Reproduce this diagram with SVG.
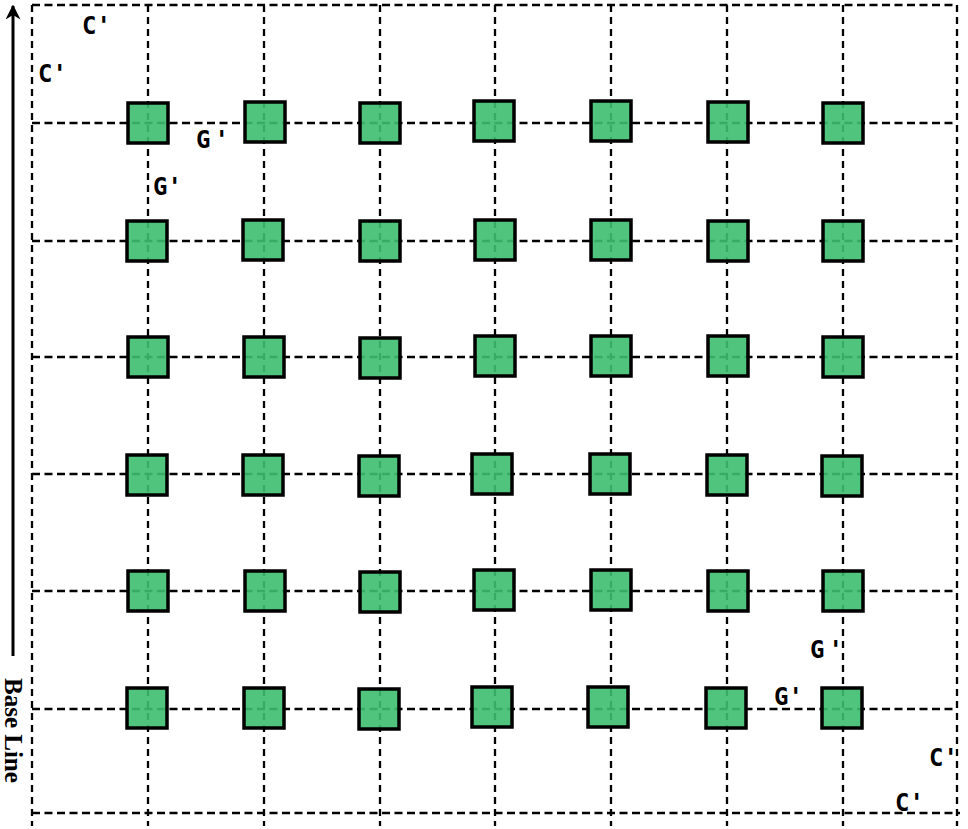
<svg xmlns="http://www.w3.org/2000/svg" width="968" height="829" viewBox="0 0 968 829">
<defs>
<style>
.g{stroke:#000;stroke-width:2.3;stroke-dasharray:8 4.5;fill:none}
.v{stroke:#000;stroke-width:2.3;stroke-dasharray:7 5;fill:none}
.sq{fill:#3dbd6e;fill-opacity:0.9;stroke:#000;stroke-width:3.5}
.lb{font-family:"DejaVu Sans Mono","Liberation Mono",monospace;font-size:24px;font-weight:bold;fill:#000}
.bl{font-family:"Liberation Serif","Times New Roman",serif;font-size:25px;font-weight:bold;fill:#000}
</style>
<marker id="ah" viewBox="0 0 10 10" refX="9" refY="5" markerWidth="5" markerHeight="5" orient="auto" markerUnits="strokeWidth">
<path d="M0,0 L10,5 L0,10 L3,5 Z" fill="#000"/>
</marker>
</defs>
<rect width="968" height="829" fill="#fff"/>
<g id="grid">
<line class="g" x1="32" y1="5" x2="957" y2="5"/>
<line class="g" x1="32" y1="123" x2="957" y2="123"/>
<line class="g" x1="32" y1="241" x2="957" y2="241"/>
<line class="g" x1="32" y1="357" x2="957" y2="357"/>
<line class="g" x1="32" y1="474" x2="957" y2="474"/>
<line class="g" x1="32" y1="591" x2="957" y2="591"/>
<line class="g" x1="32" y1="709" x2="957" y2="709"/>
<line class="g" x1="32" y1="813" x2="960" y2="813"/>
<line class="v" x1="32" y1="5" x2="32" y2="826"/>
<line class="v" x1="148" y1="5" x2="148" y2="826"/>
<line class="v" x1="264" y1="5" x2="264" y2="826"/>
<line class="v" x1="380" y1="5" x2="380" y2="826"/>
<line class="v" x1="495" y1="5" x2="495" y2="826"/>
<line class="v" x1="611" y1="5" x2="611" y2="826"/>
<line class="v" x1="727" y1="5" x2="727" y2="826"/>
<line class="v" x1="843" y1="5" x2="843" y2="826"/>
<line class="v" x1="957" y1="5" x2="957" y2="826"/>
</g>
<g id="pads">
<rect class="sq" x="128" y="103" width="40" height="40"/>
<rect class="sq" x="245" y="102" width="40" height="40"/>
<rect class="sq" x="360" y="103" width="40" height="40"/>
<rect class="sq" x="474" y="101" width="40" height="40"/>
<rect class="sq" x="591" y="101" width="40" height="40"/>
<rect class="sq" x="708" y="102" width="40" height="40"/>
<rect class="sq" x="823" y="103" width="40" height="40"/>

<rect class="sq" x="127" y="221" width="40" height="40"/>
<rect class="sq" x="243" y="220" width="40" height="40"/>
<rect class="sq" x="360" y="221" width="40" height="40"/>
<rect class="sq" x="475" y="220" width="40" height="40"/>
<rect class="sq" x="591" y="220" width="40" height="40"/>
<rect class="sq" x="708" y="221" width="40" height="40"/>
<rect class="sq" x="823" y="221" width="40" height="40"/>

<rect class="sq" x="128" y="337" width="40" height="40"/>
<rect class="sq" x="244" y="337" width="40" height="40"/>
<rect class="sq" x="360" y="338" width="40" height="40"/>
<rect class="sq" x="475" y="336" width="40" height="40"/>
<rect class="sq" x="591" y="336" width="40" height="40"/>
<rect class="sq" x="708" y="336" width="40" height="40"/>
<rect class="sq" x="823" y="337" width="40" height="40"/>

<rect class="sq" x="127" y="455" width="40" height="40"/>
<rect class="sq" x="243" y="455" width="40" height="40"/>
<rect class="sq" x="359" y="456" width="40" height="40"/>
<rect class="sq" x="472" y="454" width="40" height="40"/>
<rect class="sq" x="590" y="454" width="40" height="40"/>
<rect class="sq" x="707" y="455" width="40" height="40"/>
<rect class="sq" x="822" y="456" width="40" height="40"/>

<rect class="sq" x="128" y="571" width="40" height="40"/>
<rect class="sq" x="245" y="571" width="40" height="40"/>
<rect class="sq" x="360" y="572" width="40" height="40"/>
<rect class="sq" x="474" y="570" width="40" height="40"/>
<rect class="sq" x="591" y="570" width="40" height="40"/>
<rect class="sq" x="708" y="571" width="40" height="40"/>
<rect class="sq" x="823" y="571" width="40" height="40"/>

<rect class="sq" x="127" y="688" width="40" height="40"/>
<rect class="sq" x="244" y="688" width="40" height="40"/>
<rect class="sq" x="359" y="689" width="40" height="40"/>
<rect class="sq" x="472" y="687" width="40" height="40"/>
<rect class="sq" x="588" y="687" width="40" height="40"/>
<rect class="sq" x="706" y="688" width="40" height="40"/>
<rect class="sq" x="822" y="688" width="40" height="40"/>
</g>
<g id="connectors">
<line x1="13" y1="656" x2="13" y2="6" stroke="#000" stroke-width="3" marker-end="url(#ah)"/>
</g>
<g id="labels">
<text class="lb" x="82" y="34">C'</text>
<text class="lb" x="38" y="82">C'</text>
<text class="lb" x="196" y="148">G<tspan dx="4">'</tspan></text>
<text class="lb" x="153" y="195">G'</text>
<text class="lb" x="810" y="658">G<tspan dx="4">'</tspan></text>
<text class="lb" x="774" y="705">G'</text>
<text class="lb" x="929" y="766">C'</text>
<text class="lb" x="895" y="811">C'</text>
<text class="bl" transform="translate(5,678) rotate(90)">Base Line</text>
</g>
</svg>
